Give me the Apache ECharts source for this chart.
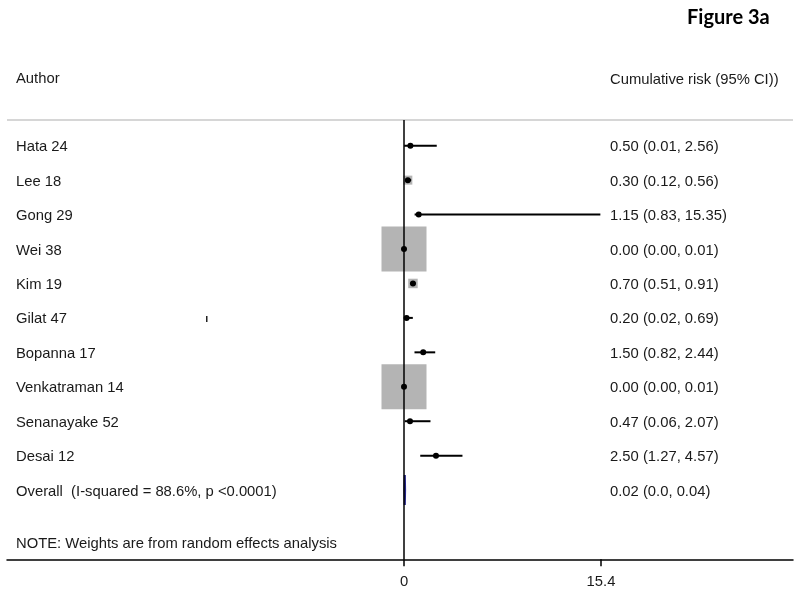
<!DOCTYPE html>
<html><head><meta charset="utf-8">
<script src="https://cdn.jsdelivr.net/npm/echarts@6/dist/echarts.min.js"></script>
<style>html,body{margin:0;padding:0;background:#fff}#c{width:800px;height:594px}</style>
</head><body><div id="c"></div>
<script>
// ---- data ----
const authors = ['Hata 24','Lee 18','Gong 29','Wei 38','Kim 19','Gilat 47','Bopanna 17','Venkatraman 14','Senanayake 52','Desai 12'];
const estimates = [0.50, 0.30, 1.15, 0.00, 0.70, 0.20, 1.50, 0.00, 0.47, 2.50];
const lowerCI   = [0.01, 0.12, 0.83, 0.00, 0.51, 0.02, 0.82, 0.00, 0.06, 1.27];
const upperCI   = [2.56, 0.56, 15.35, 0.01, 0.91, 0.69, 2.44, 0.01, 2.07, 4.57];
const weights   = [0.4, 1.8, 0.4, 45, 2.0, 0.4, 0.4, 45, 0.4, 0.4];
const resultLabels = ['0.50 (0.01, 2.56)','0.30 (0.12, 0.56)','1.15 (0.83, 15.35)','0.00 (0.00, 0.01)','0.70 (0.51, 0.91)','0.20 (0.02, 0.69)','1.50 (0.82, 2.44)','0.00 (0.00, 0.01)','0.47 (0.06, 2.07)','2.50 (1.27, 4.57)'];
const overallLabel = 'Overall  (I-squared = 88.6%, p <0.0001)';
const overallEstimate = 0.02, overallLower = 0.0, overallUpper = 0.04;
const overallResult = '0.02 (0.0, 0.04)';
const xTickValues = [0, 15.4];
const xTickLabels = ['0', '15.4'];

// ---- layout ----
const FONT = '"Liberation Sans", Arial, Helvetica, sans-serif';
const FS = 14.8;
const TXT = '#1a1a1a';
const X0 = 404, XT = 601, GL = 7, GR = 793;
const pxPerUnit = (XT - X0) / xTickValues[1];
const xMin = -(X0 - GL) / pxPerUnit, xMax = (GR - X0) / pxPerUnit;
const ROW0 = 145.7, ROWH = 34.44, GT = 120, GB = 559.3;
const yMin = 1 - (ROW0 - GT) / ROWH, yMax = 1 + (GB - ROW0) / ROWH;
const BOX_MAX = 45;
const maxW = Math.max(...weights);
const LABEL_X = 16, RESULT_X = 610, TEXT_DY = 1.5;

const studyData = authors.map((a, i) => [estimates[i], lowerCI[i], upperCI[i], weights[i], i + 1]);
const overallData = [[overallEstimate, overallLower, overallUpper, authors.length + 1]];

function txt(x, y, s) {
  return {type: 'text', x: x, y: y + TEXT_DY, style: {text: s, fontFamily: FONT, fontSize: FS, fill: TXT, verticalAlign: 'middle', align: 'left'}};
}

function renderStudy(params, api) {
  const est = api.value(0), lo = api.value(1), hi = api.value(2), w = api.value(3), row = api.value(4);
  const c = api.coord([est, row]), l = api.coord([lo, row]), h = api.coord([hi, row]);
  const side = BOX_MAX * Math.sqrt(w / maxW);
  const i = params.dataIndex;
  return {type: 'group', children: [
    {type: 'rect', shape: {x: c[0] - side / 2, y: c[1] - side / 2, width: side, height: side}, style: {fill: '#b4b4b4'}},
    {type: 'line', shape: {x1: l[0], y1: l[1], x2: h[0], y2: h[1]}, style: {stroke: '#000', lineWidth: 2}},
    {type: 'circle', shape: {cx: c[0], cy: c[1], r: 3}, style: {fill: '#000'}},
    txt(LABEL_X, c[1], authors[i]),
    txt(RESULT_X, c[1], resultLabels[i])
  ]};
}

function renderOverall(params, api) {
  const est = api.value(0), lo = api.value(1), hi = api.value(2), row = api.value(3);
  const c = api.coord([est, row]), l = api.coord([lo, row]), h = api.coord([hi, row]);
  const half = 15;
  return {type: 'group', children: [
    {type: 'polygon', shape: {points: [[l[0] + 0.5, c[1]], [c[0] + 0.5, c[1] - half], [h[0] + 0.5, c[1]], [c[0] + 0.5, c[1] + half]]},
     style: {fill: '#26268c', stroke: '#26268c', lineWidth: 2.2}},
    txt(LABEL_X, c[1], overallLabel),
    txt(RESULT_X, c[1], overallResult)
  ]};
}

const chart = echarts.init(document.getElementById('c'), null, {renderer: 'canvas'});
chart.setOption({
  animation: false,
  backgroundColor: '#fff',
  grid: {left: GL, right: 800 - GR, top: GT, bottom: 594 - GB, containLabel: false},
  xAxis: {
    type: 'value', min: xMin, max: xMax, position: 'bottom',
    axisLine: {show: true, lineStyle: {color: '#000', width: 1.5}},
    axisTick: {show: true, customValues: xTickValues, length: 7, lineStyle: {color: '#000', width: 1.5}},
    axisLabel: {show: true, customValues: xTickValues, margin: 15, fontFamily: FONT, fontSize: FS, color: TXT,
      formatter: v => xTickLabels[xTickValues.indexOf(v)] ?? ''},
    splitLine: {show: false}
  },
  yAxis: {type: 'value', inverse: true, min: yMin, max: yMax, show: false},
  series: [
    {type: 'scatter', data: [], z: 1, silent: true,
     markLine: {silent: true, symbol: 'none', label: {show: false}, lineStyle: {color: '#000', width: 1.5, type: 'solid'},
       data: [{xAxis: 0}]}},
    {type: 'custom', z: 3, renderItem: renderStudy, data: studyData, silent: true},
    {type: 'custom', z: 3, renderItem: renderOverall, data: overallData, silent: true}
  ],
  graphic: [
    {type: 'line', shape: {x1: GL, y1: 120, x2: GR, y2: 120}, style: {stroke: '#c8c8c8', lineWidth: 1.5}, z: 0},
    {type: 'text', left: 16, top: 71, style: {text: 'Author', fontFamily: FONT, fontSize: FS, fill: TXT}},
    {type: 'text', left: 610, top: 72, style: {text: 'Cumulative risk (95% CI))', fontFamily: FONT, fontSize: FS, fill: TXT}},
    {type: 'text', left: 687, top: 8, style: {text: 'Figure 3a', fontFamily: 'Lato, "Open Sans", sans-serif', fontWeight: 'bold', fontSize: 20, fill: '#000'}},
    {type: 'text', left: 16, top: 536, style: {text: 'NOTE: Weights are from random effects analysis', fontFamily: FONT, fontSize: FS, fill: TXT}},
    {type: 'rect', shape: {x: 206, y: 316, width: 1.5, height: 6}, style: {fill: '#222'}}
  ]
});
</script>
</body></html>
